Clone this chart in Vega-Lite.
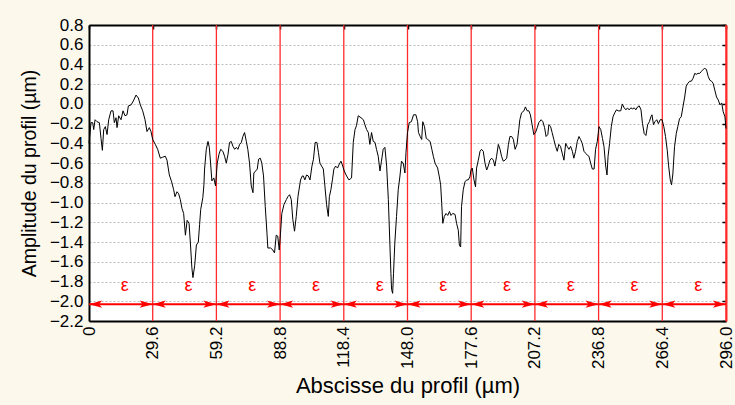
{
  "$schema": "https://vega.github.io/schema/vega-lite/v6.json",
  "width": 637,
  "height": 296,
  "autosize": {"type": "none"},
  "padding": {"left": 89, "top": 25, "right": 9, "bottom": 84},
  "background": "#fcf8ec",
  "config": {
    "view": {"stroke": null, "fill": "white"},
    "font": "Liberation Sans",
    "axis": {"labelFont": "Liberation Sans", "titleFont": "Liberation Sans", "labelColor": "black", "titleColor": "black", "titleFontWeight": "normal"}
  },
  "datasets": {
    "profile": [
      {"x":0,"y":-0.40},{"x":0.95,"y":-0.19},{"x":1.72,"y":-0.19},{"x":2.19,"y":-0.26},{"x":2.81,"y":-0.16},{"x":3.73,"y":-0.18},{"x":4.82,"y":-0.19},{"x":5.59,"y":-0.35},{"x":6.21,"y":-0.47},{"x":6.83,"y":-0.26},{"x":7.60,"y":-0.23},{"x":8.38,"y":-0.31},{"x":9.15,"y":-0.16},{"x":10.24,"y":-0.07},{"x":11.16,"y":-0.07},{"x":11.78,"y":-0.19},{"x":12.56,"y":-0.14},{"x":13.02,"y":-0.24},{"x":13.80,"y":-0.12},{"x":14.88,"y":-0.16},{"x":15.81,"y":-0.07},{"x":16.74,"y":-0.12},{"x":17.67,"y":-0.11},{"x":18.29,"y":-0.02},{"x":19.52,"y":-0.01},{"x":20.61,"y":0.03},{"x":21.85,"y":0.09},{"x":22.93,"y":0.06},{"x":23.86,"y":-0.01},{"x":24.94,"y":-0.07},{"x":26.03,"y":-0.16},{"x":26.95,"y":-0.28},{"x":28.04,"y":-0.24},{"x":28.81,"y":-0.28},{"x":29.59,"y":-0.36},{"x":30.82,"y":-0.41},{"x":31.91,"y":-0.46},{"x":33.15,"y":-0.55},{"x":34.23,"y":-0.54},{"x":35.47,"y":-0.53},{"x":36.24,"y":-0.57},{"x":37.33,"y":-0.72},{"x":38.41,"y":-0.79},{"x":39.34,"y":-0.87},{"x":39.96,"y":-0.94},{"x":40.89,"y":-0.89},{"x":41.66,"y":-0.91},{"x":42.43,"y":-0.97},{"x":43.21,"y":-1.06},{"x":43.98,"y":-1.11},
      {"x":44.8,"y":-1.33},{"x":45.6,"y":-1.18},{"x":46.5,"y":-1.21},{"x":47.2,"y":-1.44},{"x":47.8,"y":-1.66},{"x":48.3,"y":-1.76},{"x":49.1,"y":-1.64},{"x":49.9,"y":-1.43},{"x":50.8,"y":-1.40},{"x":51.4,"y":-1.22},{"x":51.9,"y":-1.07},{"x":52.9,"y":-0.95},{"x":53.4,"y":-0.82},{"x":53.7,"y":-0.66},{"x":54.5,"y":-0.46},{"x":55.3,"y":-0.38},
      {"x":55.9,"y":-0.44},{"x":56.5,"y":-0.60},{"x":57.1,"y":-0.78},{"x":58.0,"y":-0.75},{"x":58.8,"y":-0.83},{"x":59.6,"y":-0.60},{"x":60.4,"y":-0.51},{"x":61.2,"y":-0.46},{"x":62.2,"y":-0.48},{"x":63.0,"y":-0.53},{"x":63.8,"y":-0.60},{"x":64.6,"y":-0.51},{"x":65.3,"y":-0.39},{"x":66.1,"y":-0.38},{"x":66.9,"y":-0.43},{"x":67.7,"y":-0.46},{"x":68.5,"y":-0.44},{"x":69.2,"y":-0.46},{"x":70.0,"y":-0.41},{"x":70.8,"y":-0.39},{"x":71.5,"y":-0.33},{"x":72.3,"y":-0.29},{"x":73.1,"y":-0.38},{"x":73.8,"y":-0.46},{"x":74.6,"y":-0.60},{"x":75.4,"y":-0.83},{"x":76.2,"y":-0.90},{"x":76.6,"y":-0.70},{"x":77.4,"y":-0.68},{"x":78.2,"y":-0.66},{"x":78.8,"y":-0.56},{"x":79.6,"y":-0.55},{"x":80.3,"y":-0.60},{"x":81.1,"y":-0.73},{"x":81.9,"y":-1.04},{"x":82.7,"y":-1.31},{"x":83.1,"y":-1.46},{"x":84.4,"y":-1.46},{"x":85.4,"y":-1.48},{"x":86.2,"y":-1.51},{"x":87.0,"y":-1.33},{"x":87.7,"y":-1.34},{"x":88.4,"y":-1.48},{"x":89.0,"y":-1.31},{"x":89.6,"y":-1.11},{"x":90.6,"y":-1.02},{"x":91.7,"y":-0.97},{"x":92.4,"y":-0.94},{"x":93.2,"y":-0.92},{"x":94.0,"y":-0.97},{"x":94.7,"y":-1.17},{"x":95.5,"y":-1.29},{"x":96.3,"y":-1.14},{"x":97.1,"y":-0.94},{"x":98.3,"y":-0.77},{"x":99.1,"y":-0.73},
      {"x":99.6,"y":-0.73},{"x":100.3,"y":-0.77},{"x":101.1,"y":-0.72},{"x":101.9,"y":-0.73},{"x":102.7,"y":-0.77},{"x":103.6,"y":-0.63},{"x":104.3,"y":-0.56},{"x":105.1,"y":-0.39},{"x":105.9,"y":-0.39},{"x":106.6,"y":-0.49},{"x":107.3,"y":-0.60},{"x":108.1,"y":-0.63},{"x":108.9,"y":-0.66},{"x":109.6,"y":-0.83},{"x":110.4,"y":-1.02},{"x":111.2,"y":-1.14},{"x":111.7,"y":-0.94},{"x":112.4,"y":-0.87},{"x":113.1,"y":-0.77},{"x":113.8,"y":-0.66},{"x":114.6,"y":-0.63},{"x":115.5,"y":-0.65},{"x":116.3,"y":-0.61},{"x":117.1,"y":-0.58},{"x":117.9,"y":-0.63},{"x":118.6,"y":-0.68},{"x":119.7,"y":-0.73},{"x":120.8,"y":-0.77},{"x":122.0,"y":-0.75},{"x":122.8,"y":-0.39},{"x":123.6,"y":-0.26},{"x":124.3,"y":-0.22},{"x":125.1,"y":-0.12},{"x":126.4,"y":-0.14},{"x":127.5,"y":-0.16},{"x":128.2,"y":-0.21},{"x":129.0,"y":-0.26},{"x":129.8,"y":-0.29},{"x":130.5,"y":-0.41},{"x":131.3,"y":-0.29},{"x":132.1,"y":-0.38},{"x":132.9,"y":-0.39},{"x":133.6,"y":-0.46},{"x":134.4,"y":-0.53},{"x":135.2,"y":-0.68},{"x":135.9,"y":-0.58},{"x":136.7,"y":-0.46},{"x":137.5,"y":-0.44},{"x":138.3,"y":-0.63},{"x":139.1,"y":-0.97},{"x":139.8,"y":-1.41},{"x":140.3,"y":-1.72},{"x":140.6,"y":-1.88},{"x":141.1,"y":-1.92},{"x":141.5,"y":-1.72},{"x":142.1,"y":-1.41},{"x":142.9,"y":-1.14},{"x":143.7,"y":-0.87},{"x":144.5,"y":-0.73},{"x":145.2,"y":-0.58},{"x":146.0,"y":-0.60},{"x":146.8,"y":-0.70},{"x":147.3,"y":-0.49},{"x":148.0,"y":-0.29},{"x":148.8,"y":-0.19},
      {"x":149.8,"y":-0.18},{"x":150.8,"y":-0.11},{"x":151.9,"y":-0.11},{"x":152.7,"y":-0.18},{"x":153.1,"y":-0.29},{"x":153.9,"y":-0.33},{"x":154.6,"y":-0.36},{"x":155.1,"y":-0.18},{"x":155.9,"y":-0.23},{"x":156.7,"y":-0.35},{"x":157.4,"y":-0.36},{"x":158.5,"y":-0.38},{"x":159.3,"y":-0.46},{"x":160.0,"y":-0.53},{"x":160.8,"y":-0.60},{"x":162.0,"y":-0.65},{"x":162.8,"y":-0.74},{"x":163.4,"y":-0.82},{"x":163.9,"y":-1.01},{"x":164.4,"y":-1.21},{"x":165.1,"y":-1.14},{"x":165.9,"y":-1.11},{"x":166.7,"y":-1.13},{"x":167.5,"y":-1.09},{"x":168.2,"y":-1.13},{"x":169.0,"y":-1.11},{"x":170.1,"y":-1.12},{"x":170.8,"y":-1.21},{"x":171.6,"y":-1.28},{"x":172.1,"y":-1.43},{"x":172.7,"y":-1.45},{"x":173.1,"y":-1.04},{"x":173.9,"y":-0.87},{"x":174.7,"y":-0.79},{"x":175.5,"y":-0.77},{"x":176.2,"y":-0.77},{"x":177.0,"y":-0.74},{"x":177.5,"y":-0.67},{"x":178.1,"y":-0.65},{"x":178.9,"y":-0.77},{"x":179.6,"y":-0.84},{"x":180.1,"y":-0.65},{"x":180.9,"y":-0.57},{"x":181.7,"y":-0.48},{"x":182.4,"y":-0.46},{"x":183.2,"y":-0.48},{"x":184.0,"y":-0.60},{"x":184.8,"y":-0.67},{"x":185.5,"y":-0.63},{"x":186.3,"y":-0.57},{"x":187.1,"y":-0.55},{"x":187.9,"y":-0.57},{"x":188.6,"y":-0.63},{"x":189.4,"y":-0.53},{"x":190.2,"y":-0.41},{"x":191.0,"y":-0.46},{"x":191.7,"y":-0.53},{"x":192.5,"y":-0.58},{"x":193.3,"y":-0.57},{"x":194.1,"y":-0.55},{"x":194.9,"y":-0.41},{"x":195.6,"y":-0.33},{"x":196.4,"y":-0.33},{"x":197.2,"y":-0.36},{"x":198.0,"y":-0.46},
      {"x":198.9,"y":-0.41},{"x":199.7,"y":-0.26},{"x":200.2,"y":-0.16},{"x":201.0,"y":-0.09},{"x":202.1,"y":-0.07},{"x":202.8,"y":-0.03},{"x":203.6,"y":-0.07},{"x":204.4,"y":-0.07},{"x":205.1,"y":-0.11},{"x":205.9,"y":-0.21},{"x":206.7,"y":-0.31},{"x":207.5,"y":-0.29},{"x":208.3,"y":-0.24},{"x":209.0,"y":-0.19},{"x":210.1,"y":-0.16},{"x":210.9,"y":-0.18},{"x":211.7,"y":-0.24},{"x":212.4,"y":-0.33},{"x":213.2,"y":-0.31},{"x":213.7,"y":-0.21},{"x":214.5,"y":-0.23},{"x":215.2,"y":-0.29},{"x":216.0,"y":-0.36},{"x":216.8,"y":-0.43},{"x":217.6,"y":-0.48},{"x":218.3,"y":-0.41},{"x":219.1,"y":-0.43},{"x":219.9,"y":-0.50},{"x":220.7,"y":-0.57},{"x":221.5,"y":-0.40},{"x":222.2,"y":-0.43},{"x":223.0,"y":-0.46},{"x":223.8,"y":-0.43},{"x":224.6,"y":-0.48},{"x":225.3,"y":-0.55},{"x":226.1,"y":-0.48},{"x":226.9,"y":-0.38},{"x":227.7,"y":-0.33},{"x":228.4,"y":-0.36},{"x":229.2,"y":-0.40},{"x":230.0,"y":-0.48},{"x":230.8,"y":-0.50},{"x":231.6,"y":-0.52},{"x":232.3,"y":-0.53},{"x":233.1,"y":-0.60},{"x":233.9,"y":-0.66},{"x":234.7,"y":-0.66},{"x":235.4,"y":-0.46},{"x":236.2,"y":-0.38},{"x":237.0,"y":-0.23},{"x":237.8,"y":-0.26},{"x":238.6,"y":-0.35},{"x":239.3,"y":-0.43},{"x":240.1,"y":-0.63},{"x":240.7,"y":-0.72},{"x":241.2,"y":-0.53},{"x":241.9,"y":-0.40},{"x":242.7,"y":-0.23},{"x":243.5,"y":-0.13},{"x":244.3,"y":-0.09},{"x":245.1,"y":-0.06},{"x":246.0,"y":-0.07},{"x":247.1,"y":-0.07},{"x":247.8,"y":0.00},
      {"x":248.7,"y":-0.04},{"x":249.5,"y":-0.06},{"x":250.2,"y":-0.04},{"x":251.0,"y":-0.06},{"x":251.8,"y":-0.04},{"x":252.6,"y":-0.05},{"x":253.4,"y":-0.04},{"x":254.1,"y":-0.06},{"x":254.9,"y":-0.03},{"x":255.7,"y":-0.02},{"x":256.5,"y":-0.06},{"x":257.2,"y":-0.20},{"x":258.0,"y":-0.30},{"x":258.8,"y":-0.32},{"x":259.6,"y":-0.21},{"x":260.4,"y":-0.18},{"x":261.1,"y":-0.13},{"x":261.6,"y":-0.11},{"x":262.3,"y":-0.21},{"x":263.0,"y":-0.18},{"x":263.8,"y":-0.16},{"x":264.6,"y":-0.20},{"x":265.4,"y":-0.16},{"x":266.3,"y":-0.16},{"x":267.1,"y":-0.23},{"x":267.9,"y":-0.33},{"x":268.7,"y":-0.47},{"x":269.3,"y":-0.62},{"x":270.1,"y":-0.77},{"x":270.7,"y":-0.82},{"x":271.3,"y":-0.71},{"x":272.1,"y":-0.43},{"x":272.9,"y":-0.30},{"x":273.6,"y":-0.23},{"x":274.4,"y":-0.15},{"x":275.2,"y":-0.13},{"x":276.0,"y":-0.03},{"x":276.8,"y":0.07},{"x":277.5,"y":0.18},{"x":278.3,"y":0.21},{"x":279.1,"y":0.23},{"x":279.9,"y":0.23},{"x":280.7,"y":0.26},{"x":281.5,"y":0.31},{"x":282.2,"y":0.30},{"x":283.0,"y":0.31},{"x":283.8,"y":0.31},{"x":284.6,"y":0.33},{"x":285.4,"y":0.35},{"x":286.1,"y":0.36},{"x":286.9,"y":0.35},{"x":287.7,"y":0.28},{"x":288.5,"y":0.24},{"x":289.3,"y":0.23},{"x":290.0,"y":0.21},{"x":290.8,"y":0.14},{"x":291.6,"y":0.07},{"x":292.4,"y":0.04},{"x":293.2,"y":-0.01},{"x":294.0,"y":0.01},{"x":294.7,"y":-0.08},{"x":295.5,"y":-0.13},{"x":296.0,"y":-0.25}
    ],
    "bounds": [{"b":29.6},{"b":59.2},{"b":88.8},{"b":118.4},{"b":148.0},{"b":177.6},{"b":207.2},{"b":236.8},{"b":266.4},{"b":296.0}],
    "segs": [
      {"s":0,"e":29.6,"m":14.8,"a":-2.03,"t":-1.85,"lab":"ε"},
      {"s":29.6,"e":59.2,"m":44.4,"a":-2.03,"t":-1.85,"lab":"ε"},
      {"s":59.2,"e":88.8,"m":74.0,"a":-2.03,"t":-1.85,"lab":"ε"},
      {"s":88.8,"e":118.4,"m":103.6,"a":-2.03,"t":-1.85,"lab":"ε"},
      {"s":118.4,"e":148.0,"m":133.2,"a":-2.03,"t":-1.85,"lab":"ε"},
      {"s":148.0,"e":177.6,"m":162.8,"a":-2.03,"t":-1.85,"lab":"ε"},
      {"s":177.6,"e":207.2,"m":192.4,"a":-2.03,"t":-1.85,"lab":"ε"},
      {"s":207.2,"e":236.8,"m":222.0,"a":-2.03,"t":-1.85,"lab":"ε"},
      {"s":236.8,"e":266.4,"m":251.6,"a":-2.03,"t":-1.85,"lab":"ε"},
      {"s":266.4,"e":296.0,"m":281.2,"a":-2.03,"t":-1.85,"lab":"ε"}
    ]
  },
  "resolve": {"axis": {"x": "independent", "y": "independent"}},
  "layer": [
    {
      "data": {"name": "bounds"},
      "mark": {"type": "rule", "color": "#ff2a2a", "strokeWidth": 1.3},
      "encoding": {
        "x": {"field": "b", "type": "quantitative", "scale": {"domain": [0, 296], "nice": false, "zero": false},
          "axis": {"orient": "top", "values": [0,29.6,59.2,88.8,118.4,148.0,177.6,207.2,236.8,266.4,296.0], "labels": false, "title": null, "grid": false, "domain": true, "domainColor": "black", "domainWidth": 2, "ticks": true, "tickSize": -4, "tickColor": "black", "tickWidth": 1.5}}
      }
    },
    {
      "data": {"name": "profile"},
      "mark": {"type": "line", "color": "black", "strokeWidth": 1, "interpolate": "linear"},
      "encoding": {
        "x": {"field": "x", "type": "quantitative", "scale": {"domain": [0, 296], "nice": false, "zero": false},
          "axis": {"orient": "bottom", "values": [0,29.6,59.2,88.8,118.4,148.0,177.6,207.2,236.8,266.4,296.0], "labelExpr": "datum.value == 0 ? '0' : format(datum.value, '.1f')", "labelAngle": -90, "labelFontSize": 17, "labelPadding": 5, "ticks": false, "grid": false, "domainColor": "black", "domainWidth": 2, "title": "Abscisse du profil (µm)", "titleFontSize": 22, "titlePadding": 7, "labelOverlap": false, "labelFlush": false}},
        "y": {"field": "y", "type": "quantitative", "scale": {"domain": [-2.2, 0.8], "nice": false, "zero": false},
          "axis": {"orient": "left", "values": [-2.2,-2.0,-1.8,-1.6,-1.4,-1.2,-1.0,-0.8,-0.6,-0.4,-0.2,0,0.2,0.4,0.6,0.8], "format": ".1f", "labelFontSize": 17, "labelPadding": 6, "ticks": false, "grid": true, "gridColor": "#bdbdbd", "gridDash": [2, 2], "gridWidth": 1, "domainColor": "black", "domainWidth": 2, "title": "Amplitude du profil (µm)", "titleFontSize": 19.5, "titlePadding": 10, "labelOverlap": false, "labelFlush": false}}
      }
    },
    {
      "data": {"name": "segs"},
      "mark": {"type": "rule", "color": "#ff0000", "strokeWidth": 2},
      "encoding": {
        "x": {"field": "s", "type": "quantitative", "axis": null},
        "x2": {"field": "e"},
        "y": {"field": "a", "type": "quantitative",
          "axis": {"orient": "right", "values": [-2.2,-2.0,-1.8,-1.6,-1.4,-1.2,-1.0,-0.8,-0.6,-0.4,-0.2,0,0.2,0.4,0.6,0.8], "labels": false, "title": null, "grid": false, "domain": true, "domainColor": "#ff2a2a", "domainWidth": 2, "ticks": true, "tickSize": -4, "tickColor": "black", "tickWidth": 1.5}}
      }
    },
    {
      "data": {"name": "segs"},
      "mark": {"type": "point", "shape": "M0,0L2,-0.56L1.55,0L2,0.56Z", "filled": true, "color": "#ff0000", "opacity": 1, "size": 169, "strokeWidth": 0},
      "encoding": {
        "x": {"field": "s", "type": "quantitative", "axis": null},
        "y": {"field": "a", "type": "quantitative", "axis": null}
      }
    },
    {
      "data": {"name": "segs"},
      "mark": {"type": "point", "shape": "M0,0L-2,-0.56L-1.55,0L-2,0.56Z", "filled": true, "color": "#ff0000", "opacity": 1, "size": 169, "strokeWidth": 0},
      "encoding": {
        "x": {"field": "e", "type": "quantitative", "axis": null},
        "y": {"field": "a", "type": "quantitative", "axis": null}
      }
    },
    {
      "data": {"name": "segs"},
      "mark": {"type": "text", "color": "#ff0000", "fontSize": 18, "font": "Liberation Sans", "dx": 4, "baseline": "middle", "align": "center"},
      "encoding": {
        "x": {"field": "m", "type": "quantitative", "axis": null},
        "y": {"field": "t", "type": "quantitative", "axis": null},
        "text": {"field": "lab"}
      }
    }
  ]
}
